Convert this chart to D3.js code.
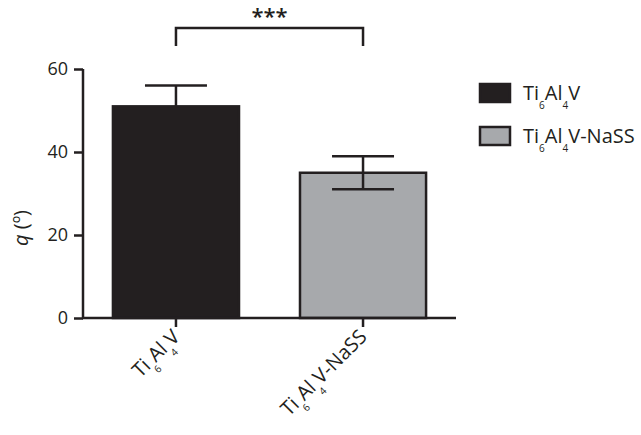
<!DOCTYPE html>
<html>
<head>
<meta charset="utf-8">
<script src="https://cdn.jsdelivr.net/npm/d3@7"></script>
<style>
  body { margin: 0; background: #fff; }
  text { font-family: "Open Sans", "Noto Sans", sans-serif; fill: #231f20; }
</style>
</head>
<body>
<script>
// data
const groups = ["Ti6Al4V", "Ti6Al4V-NaSS"];
const means = [51, 35];
const errs = [5, 4];
const fills = ["#231f20", "#a7a9ac"];
const yTicks = [0, 20, 40, 60];
const labelParts = [
    [["Ti", 0], ["6", 1], ["Al", 0], ["4", 1], ["V", 0]],
    [["Ti", 0], ["6", 1], ["Al", 0], ["4", 1], ["V-NaSS", 0]]
];

const width = 641, height = 435;
const x0 = 83, x1 = 456, yTop = 69, yBot = 318;
const ink = "#231f20";

const svg = d3.select("body").append("svg")
    .attr("width", width)
    .attr("height", height);

const xScale = d3.scaleBand()
    .domain(groups)
    .range([x0, x1])
    .paddingInner(0.326)
    .paddingOuter(0.16);

const yScale = d3.scaleLinear()
    .domain([0, 60])
    .range([yBot, yTop]);

// y axis
const yAxis = svg.append("g")
    .attr("transform", "translate(" + x0 + ",0)")
    .call(d3.axisLeft(yScale).tickValues(yTicks).tickSize(9).tickPadding(6));
yAxis.select(".domain").attr("stroke", ink).attr("stroke-width", 2.5).attr("d", "M0," + yTop + "V" + yBot);
yAxis.selectAll(".tick line").attr("stroke", ink).attr("stroke-width", 2.5);
yAxis.selectAll(".tick text").attr("font-size", 18).attr("font-family", "Open Sans, sans-serif").attr("fill", ink);

// bars
svg.selectAll("rect.bar")
    .data(groups)
    .join("rect")
    .attr("class", "bar")
    .attr("x", d => xScale(d))
    .attr("y", (d, i) => yScale(means[i]))
    .attr("width", xScale.bandwidth())
    .attr("height", (d, i) => yBot - yScale(means[i]))
    .attr("fill", (d, i) => fills[i])
    .attr("stroke", ink)
    .attr("stroke-width", 2.5);

// error bars
const capHalf = 31;
groups.forEach((g, i) => {
    const cx = xScale(g) + xScale.bandwidth() / 2;
    const lo = i === 1 ? means[i] - errs[i] : means[i];
    svg.append("line")
        .attr("x1", cx).attr("x2", cx)
        .attr("y1", yScale(lo)).attr("y2", yScale(means[i] + errs[i]))
        .attr("stroke", ink).attr("stroke-width", 2.5);
    svg.append("line")
        .attr("x1", cx - capHalf).attr("x2", cx + capHalf)
        .attr("y1", yScale(means[i] + errs[i])).attr("y2", yScale(means[i] + errs[i]))
        .attr("stroke", ink).attr("stroke-width", 2.5);
    if (i === 1) {
        svg.append("line")
            .attr("x1", cx - capHalf).attr("x2", cx + capHalf)
            .attr("y1", yScale(lo)).attr("y2", yScale(lo))
            .attr("stroke", ink).attr("stroke-width", 2.5);
    }
});

// x axis
const xAxis = svg.append("g")
    .attr("transform", "translate(0," + yBot + ")")
    .call(d3.axisBottom(xScale).tickSize(9).tickFormat(""));
xAxis.select(".domain").attr("stroke", ink).attr("stroke-width", 2.5).attr("d", "M" + (x0 - 1) + ",0H" + x1);
xAxis.selectAll(".tick line").attr("stroke", ink).attr("stroke-width", 2.5);

// rotated x labels with subscripts
groups.forEach((g, i) => {
    const cx = xScale(g) + xScale.bandwidth() / 2;
    const t = svg.append("text")
        .attr("transform", "translate(" + (cx + 5) + "," + (yBot + 20) + ") rotate(-45)")
        .attr("text-anchor", "end")
        .attr("font-size", 20);
    let prev = 0;
    labelParts[i].forEach(([s, sub]) => {
        t.append("tspan")
            .attr("dy", sub ? 9 : (prev ? -9 : 0))
            .attr("font-size", sub ? 10 : 20)
            .text(s);
        prev = sub;
    });
});

// y label
const yl = svg.append("text")
    .attr("transform", "translate(28,228) rotate(-90)")
    .attr("text-anchor", "middle")
    .attr("font-size", 20);
yl.append("tspan").attr("font-style", "italic").text("q");
yl.append("tspan").text(" (º)");

// significance bracket
const c1 = xScale(groups[0]) + xScale.bandwidth() / 2;
const c2 = xScale(groups[1]) + xScale.bandwidth() / 2;
svg.append("path")
    .attr("d", "M" + c1 + ",46V28H" + c2 + "V46")
    .attr("fill", "none")
    .attr("stroke", ink)
    .attr("stroke-width", 2.5);
svg.append("text")
    .attr("x", (c1 + c2) / 2)
    .attr("y", 24)
    .attr("text-anchor", "middle")
    .attr("font-size", 22)
    .attr("font-weight", 600)
    .text("***");

// legend
const legend = svg.append("g");
groups.forEach((g, i) => {
    const ly = 84 + i * 43;
    legend.append("rect")
        .attr("x", 480).attr("y", ly)
        .attr("width", 30).attr("height", 18)
        .attr("fill", fills[i])
        .attr("stroke", ink).attr("stroke-width", 2.5);
    const t = legend.append("text")
        .attr("x", 523).attr("y", ly + 16)
        .attr("font-size", 20);
    let prev = 0;
    labelParts[i].forEach(([s, sub]) => {
        t.append("tspan")
            .attr("dy", sub ? 9 : (prev ? -9 : 0))
            .attr("font-size", sub ? 10 : 20)
            .text(s);
        prev = sub;
    });
});
</script>
</body>
</html>
